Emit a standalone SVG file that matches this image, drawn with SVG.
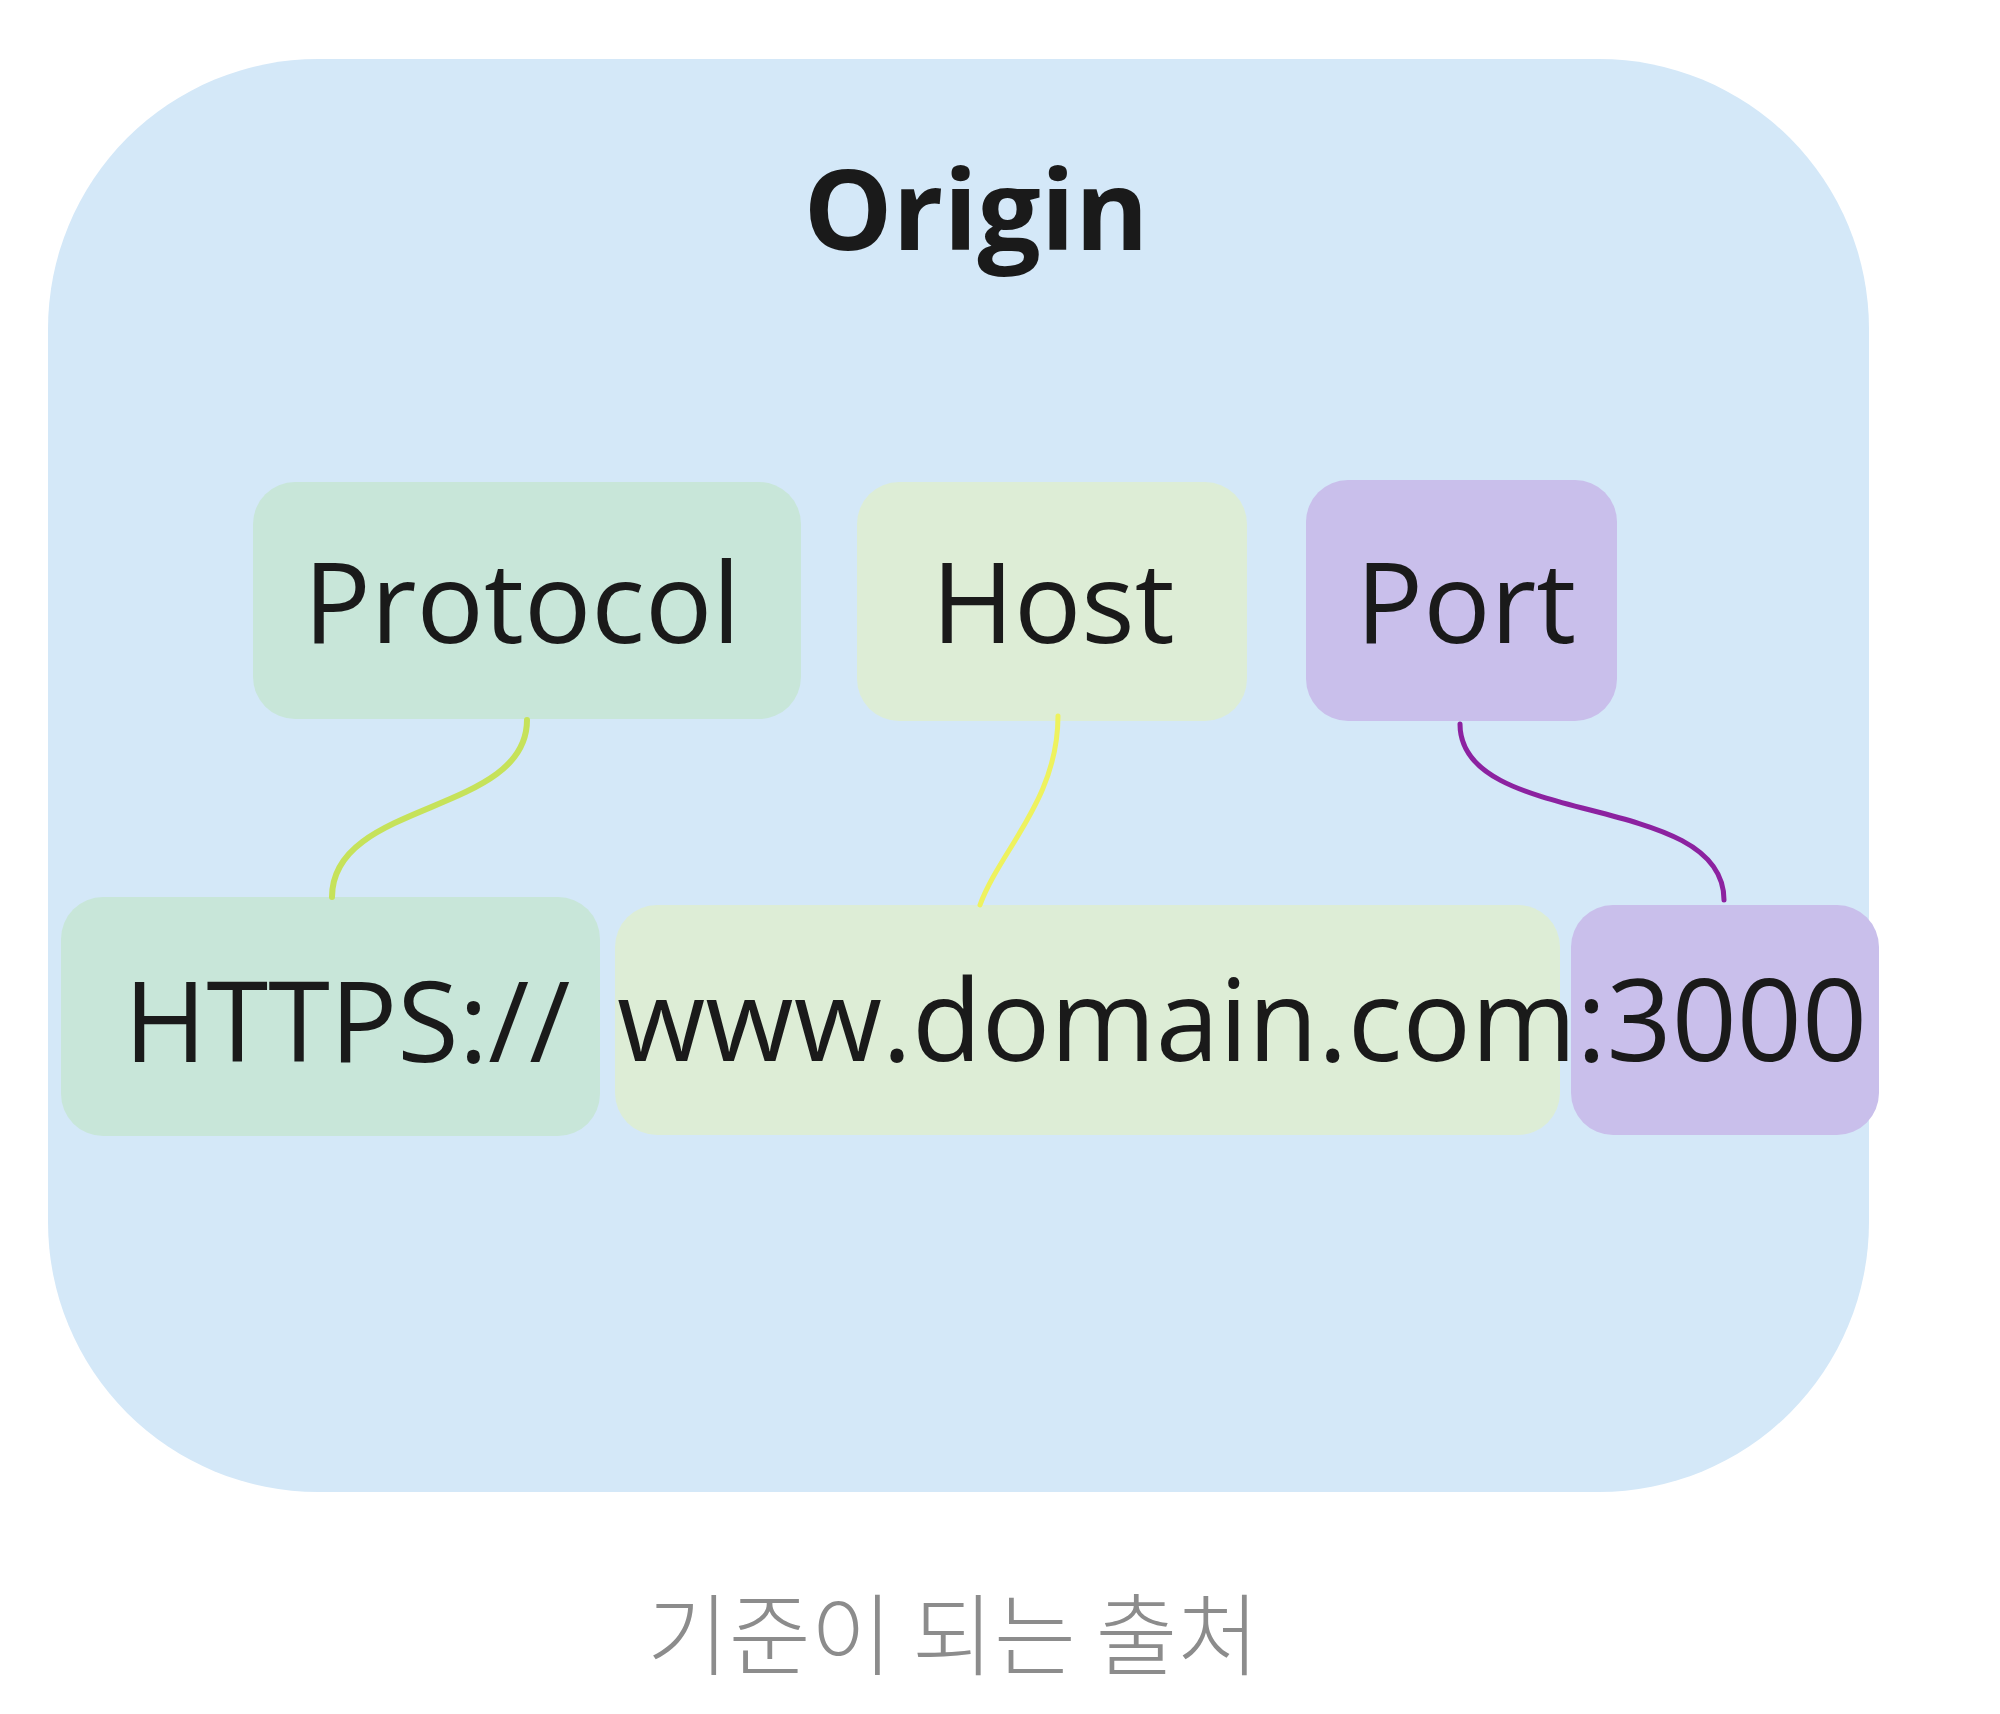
<svg xmlns="http://www.w3.org/2000/svg" width="2000" height="1714" viewBox="0 0 2000 1714">
  <style>
    .lbl { font-family: "Open Sans", "Noto Sans", sans-serif; font-size: 112px; fill: #1a1a1a; }
    .url { font-size: 114px; }
    .title { font-family: "Open Sans", "Noto Sans", sans-serif; font-size: 112px; font-weight: bold; fill: #1a1a1a; }
    .cap { font-family: "Noto Sans CJK KR", "Noto Sans", sans-serif; font-size: 89px; font-weight: 300; fill: #8c8c8c; }
    .conn { fill: none; stroke-linecap: round; }
    .proto { fill: #c8e6d9; }
    .host { fill: #ddedd6; }
    .port { fill: #c9bfeb; }
  </style>
  <rect width="2000" height="1714" fill="#ffffff"/>
  <g id="origin">
    <rect x="48" y="59" width="1821" height="1433" rx="270" ry="270" fill="#d4e8f8"/>
    <text class="title" x="976" y="250" text-anchor="middle">Origin</text>
  </g>
  <g id="protocol">
    <rect class="proto" x="253" y="482" width="548" height="237" rx="42"/>
    <text class="lbl" x="522" y="643" text-anchor="middle">Protocol</text>
  </g>
  <g id="host">
    <rect class="host" x="857" y="482" width="390" height="239" rx="42"/>
    <text class="lbl" x="1053" y="643" text-anchor="middle">Host</text>
  </g>
  <g id="port">
    <rect class="port" x="1306" y="480" width="311" height="241" rx="42"/>
    <text class="lbl" x="1466" y="643" text-anchor="middle">Port</text>
  </g>
  <g id="https">
    <rect class="proto" x="61" y="897" width="539" height="239" rx="42"/>
    <text class="lbl" x="124" y="1062">HTTPS://</text>
  </g>
  <g id="domain">
    <rect class="host" x="615" y="905" width="945" height="230" rx="42"/>
  </g>
  <g id="portnum">
    <rect class="port" x="1571" y="905" width="308" height="230" rx="42"/>
  </g>
  <g id="url-text">
    <text class="lbl url" x="617" y="1061">www.domain.com:3000</text>
  </g>
  <g id="connectors">
    <path class="conn" d="M527,720 C527,815 332,800 332,897" stroke="#c6e25a" stroke-width="6"/>
    <path class="conn" d="M1058,716 C1058,800 1000,850 980,905" stroke="#eef25e" stroke-width="5"/>
    <path class="conn" d="M1460,724 C1460,830 1724,790 1724,900" stroke="#8c22a0" stroke-width="5"/>
  </g>
  <g id="caption">
    <text class="cap" x="953" y="1668" text-anchor="middle">기준이 되는 출처</text>
  </g>
</svg>
